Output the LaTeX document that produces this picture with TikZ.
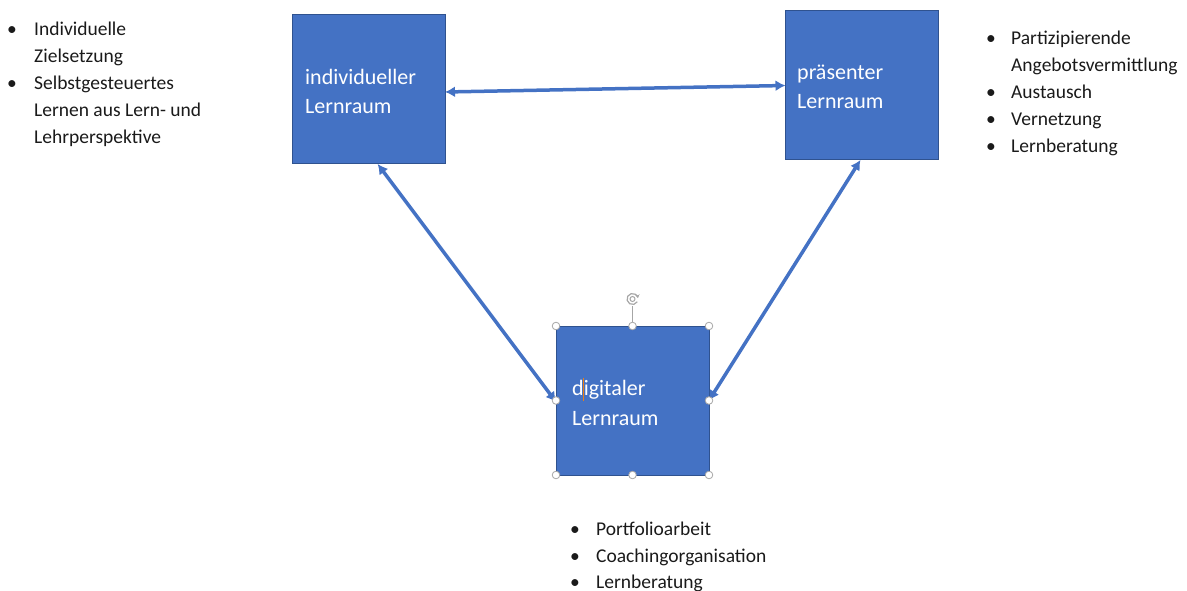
\documentclass[tikz,border=0pt]{standalone}
\usepackage{fontspec}
\setmainfont{Carlito}
\usetikzlibrary{arrows.meta,calc}
\definecolor{boxblue}{HTML}{4472C4}
\definecolor{boxedge}{HTML}{2F528F}
\definecolor{txt}{HTML}{1A1A1A}
\tikzset{
  room/.style={rectangle, draw=boxedge, line width=1pt, fill=boxblue,
    minimum width=153pt, minimum height=149pt, inner sep=0pt, outer sep=0pt},
  roomtext/.style={anchor=base west, inner sep=0pt, text=white,
    font=\fontsize{22}{29}\selectfont},
  itemtext/.style={anchor=base west, inner sep=0pt, text=txt,
    font=\fontsize{19.5}{27}\selectfont},
  bul/.style={anchor=base, inner sep=0pt, text=txt,
    font=\fontsize{19.5}{27}\selectfont},
  link/.style={draw=boxblue, line width=3.5pt,
    {Latex[length=10pt,width=11pt]}-{Latex[length=10pt,width=11pt]}},
  handle/.style={draw=gray!70, fill=white, line width=0.8pt},
}
\begin{document}
\begin{tikzpicture}[x=1pt,y=-1pt]
\useasboundingbox (0,0) rectangle (1187,591);
% boxes
\node[room] (ind) at (368.5,89.5) {};
\node[room] (pres) at (862,85.5) {};
\node[room] (dig) at (632.5,400.5) {};
% box texts
\node[roomtext] (indt1) at (305,85) {individueller};
\node[roomtext] (indt2) at (305,114) {Lernraum};
\node[roomtext] (prest1) at (797,80) {präsenter};
\node[roomtext] (prest2) at (797,109) {Lernraum};
\node[roomtext] (digt1) at (572,395) {digitaler};
\node[roomtext] (digt2) at (572,425) {Lernraum};
% connectors
\coordinate (a1s) at ([yshift=-2.5pt]ind.east);
\coordinate (a2s) at ($(ind.south west)!0.56!(ind.south east)$);
\coordinate (a3s) at ($(pres.south west)!0.49!(pres.south east)$);
\coordinate (a2e) at ([yshift=-1.5pt]dig.west);
\draw[link] (a1s) -- (pres.west);
\draw[link] (a2s) -- (a2e);
\draw[link] (a3s) -- (dig.east);
% selection handles
\coordinate (rot) at (632.5,299);
\draw[gray!70, line width=0.8pt] (dig.north) -- (632.5,305.5);
\draw[gray!70, line width=1.2pt, -{Stealth[length=3.5pt,width=4.5pt]}] ([shift={(30:5.5)}]rot) arc[start angle=30, end angle=350, radius=5.5];
\draw[gray!70, line width=1pt] (rot) circle (2.5);
\foreach \a in {north west,north,north east,east,south east,south,south west,west}
  \draw[handle] (dig.\a) circle (3.8);
% text cursor
\draw[orange!70!brown, line width=0.9pt] (583,378) -- (583,401);
% left list
\node[bul] (lb1) at (12,36) {•};
\node[itemtext] (l1) at (34,36) {Individuelle};
\node[itemtext] (l2) at (34,63) {Zielsetzung};
\node[bul] (lb2) at (12,90) {•};
\node[itemtext] (l3) at (34,90) {Selbstgesteuertes};
\node[itemtext] (l4) at (34,117) {Lernen aus Lern- und};
\node[itemtext] (l5) at (34,144) {Lehrperspektive};
% right list
\node[bul] (rb1) at (991,45) {•};
\node[itemtext] (r1) at (1011,45) {Partizipierende};
\node[itemtext] (r2) at (1011,72) {Angebotsvermittlung};
\node[bul] (rb2) at (991,99) {•};
\node[itemtext] (r3) at (1011,99) {Austausch};
\node[bul] (rb3) at (991,126) {•};
\node[itemtext] (r4) at (1011,126) {Vernetzung};
\node[bul] (rb4) at (991,153) {•};
\node[itemtext] (r5) at (1011,153) {Lernberatung};
% bottom list
\node[bul] (bb1) at (575,535) {•};
\node[itemtext] (b1) at (596,535) {Portfolioarbeit};
\node[bul] (bb2) at (575,562) {•};
\node[itemtext] (b2) at (596,562) {Coachingorganisation};
\node[bul] (bb3) at (575,588) {•};
\node[itemtext] (b3) at (596,588) {Lernberatung};
\end{tikzpicture}
\end{document}
